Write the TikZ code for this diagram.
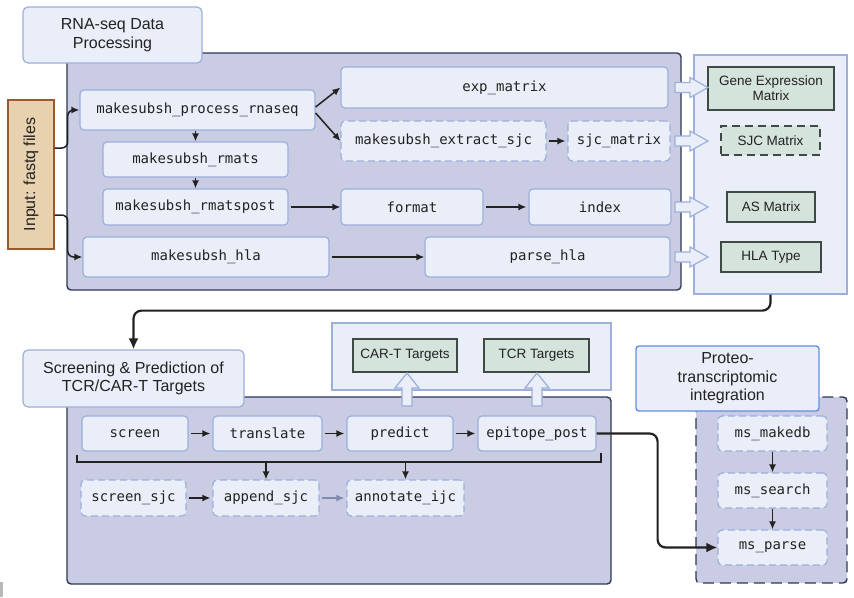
\documentclass[tikz,border=0pt]{standalone}
\usepackage{fontspec}
\setmainfont{Liberation Sans}
\newfontfamily\codefont{DejaVu Sans Mono}
\usetikzlibrary{arrows.meta}

\definecolor{nodefill}{HTML}{E9EEF8}
\definecolor{nodeline}{HTML}{9DAFDB}
\definecolor{panelfill}{HTML}{C9CCE2}
\definecolor{panelline}{HTML}{2E3853}
\definecolor{resfill}{HTML}{D5E3DD}
\definecolor{resline}{HTML}{3F4A45}
\definecolor{tanfill}{HTML}{E8D1AE}
\definecolor{tanline}{HTML}{9A5A2E}
\definecolor{brightline}{HTML}{5F90E2}
\definecolor{ink}{HTML}{222222}
\definecolor{softink}{HTML}{7F8BB0}

% hollow block arrows pointing right (at height #1) and up (at column #1)
\newcommand\hollowright[1]{%
  \filldraw[hollow] (675,#1-5) -- (690,#1-5) -- (690,#1-10) -- (708,#1)
    -- (690,#1+10) -- (690,#1+5) -- (675,#1+5) -- cycle;}
\newcommand\hollowup[1]{%
  \filldraw[hollow] (#1-5,406) -- (#1-5,388) -- (#1-12,388) -- (#1,373)
    -- (#1+12,388) -- (#1+5,388) -- (#1+5,406) -- cycle;}

\begin{document}
\begin{tikzpicture}[x=1pt,y=-1pt,
  code/.style={draw=nodeline, fill=nodefill, line width=1.2pt, rounded corners=4pt,
    font=\codefont\fontsize{14}{16}\selectfont, text=ink, inner sep=0pt},
  dcode/.style={code, dash pattern=on 7pt off 4pt},
  title/.style={draw=nodeline, fill=nodefill, line width=1.2pt, rounded corners=5pt,
    font=\fontsize{16}{18.5}\selectfont, text=ink, align=center, inner sep=0pt},
  result/.style={draw=resline, fill=resfill, line width=1.7pt,
    font=\fontsize{13.5}{15}\selectfont, text=ink, align=center, inner sep=0pt},
  panel/.style={draw=panelline, fill=panelfill, line width=1.4pt, rounded corners=4pt},
  outbox/.style={draw=nodeline, fill=nodefill, line width=1.2pt, inner sep=0pt},
  hollow/.style={draw=nodeline, fill=nodefill, line width=1.2pt, line join=miter},
  arr/.style={draw=ink, line width=1.5pt, -{Latex[length=8pt,width=7pt]}},
  bigarr/.style={draw=ink, line width=2.2pt, -{Latex[length=11pt,width=10pt]}, rounded corners=8pt}
]
\useasboundingbox (0,0) rectangle (854,597);
\fill[white] (0,0) rectangle (854,597);
\fill[gray!55] (0,582) rectangle (2.5,597);

%% ---------------- RNA-seq data processing ----------------
\fill[panel] (67,53) rectangle (681,290);
\node[title, minimum width=179pt, minimum height=56pt] (titleA) at (112.5,35)
  {RNA-seq Data\\Processing};

\node[outbox, minimum width=153pt, minimum height=239pt] (outA) at (770.5,174.5) {};

% rotated input label: its right-hand side is the node's south anchor
\node[draw=tanline, fill=tanfill, line width=1.4pt, rotate=90,
  minimum width=149pt, minimum height=46pt, inner sep=0pt,
  font=\fontsize{16}{18}\selectfont, text=ink] (input) at (31,174.5) {Input: fastq files};

\node[code, minimum width=235pt, minimum height=40pt] (proc) at (197.5,110) {makesubsh\_process\_rnaseq};
\node[code, minimum width=185pt, minimum height=35pt] (rmats) at (195.5,159.5) {makesubsh\_rmats};
\node[code, minimum width=185pt, minimum height=36pt] (rpost) at (195.5,207) {makesubsh\_rmatspost};
\node[code, minimum width=246pt, minimum height=40pt] (hla) at (206,257) {makesubsh\_hla};
\node[code, minimum width=327pt, minimum height=41pt] (expm) at (504.5,87.5) {exp\_matrix};
\node[dcode, minimum width=205pt, minimum height=40pt] (extract) at (443.5,141) {makesubsh\_extract\_sjc};
\node[dcode, minimum width=102pt, minimum height=40pt] (sjcm) at (619,141) {sjc\_matrix};
\node[code, minimum width=142pt, minimum height=36pt] (format) at (412,207) {format};
\node[code, minimum width=142pt, minimum height=36pt] (index) at (600,207) {index};
\node[code, minimum width=245pt, minimum height=40pt] (phla) at (547.5,257) {parse\_hla};

\node[result, minimum width=126pt, minimum height=43pt] (gem) at (771,88.5) {Gene Expression\\Matrix};
\node[result, dash pattern=on 8pt off 5pt, minimum width=99pt, minimum height=29pt] (sjcM) at (770.5,140.5) {SJC Matrix};
\node[result, minimum width=88pt, minimum height=30pt] (asM) at (771,207) {AS Matrix};
\node[result, minimum width=100pt, minimum height=30pt] (hlaT) at (771,257) {HLA Type};

\hollowright{87.5}
\hollowright{141}
\hollowright{207}
\hollowright{257}

\draw[arr, rounded corners=6pt] ([yshift=26.5pt]input.south) -- ++(13,0) |- (proc.west);
\draw[arr, rounded corners=6pt] ([yshift=-40.5pt]input.south) -- ++(13,0) |- (hla.west);
\draw[arr] ([yshift=3pt]proc.east) -- (expm.west);
\draw[arr] ([yshift=-3pt]proc.east) -- (extract.west);
\draw[arr] (proc.south -| rmats.north) -- (rmats.north);
\draw[arr] (rmats) -- (rpost);
\draw[arr] ([xshift=2pt]rpost.east) -- (format.west);
\draw[arr] ([xshift=2pt]format.east) -- ([xshift=-2pt]index.west);
\draw[arr] ([xshift=2pt]extract.east) -- ([xshift=-2pt]sjcm.west);
\draw[arr] ([xshift=2pt]hla.east) -- (phla.west);

%% ---------------- Screening & prediction ----------------
\fill[panel] (67,397) rectangle (611,584);
\node[outbox, minimum width=279pt, minimum height=67pt] (outB) at (471.5,356.5) {};
\node[result, minimum width=104pt, minimum height=33pt] (cart) at (405,355.5) {CAR-T Targets};
\node[result, minimum width=105pt, minimum height=33pt] (tcr) at (536.5,355.5) {TCR Targets};
\hollowup{407}
\hollowup{537}

\node[title, minimum width=221pt, minimum height=57pt] (titleB) at (133.5,378.5)
  {Screening \& Prediction of\\TCR/CAR-T Targets};

\node[code, minimum width=106pt, minimum height=35pt] (screen) at (135,433.5) {screen};
\node[code, minimum width=109pt, minimum height=35pt] (translate) at (267.5,433.5) {translate};
\node[code, minimum width=106pt, minimum height=35pt] (predict) at (400,433.5) {predict};
\node[code, minimum width=118pt, minimum height=35pt] (epi) at (537,433.5) {epitope\_post};
\node[dcode, minimum width=105pt, minimum height=36pt] (ssjc) at (133.5,498) {screen\_sjc};
\node[dcode, minimum width=106pt, minimum height=36pt] (asjc) at (266,498) {append\_sjc};
\node[dcode, minimum width=117pt, minimum height=36pt] (aijc) at (405.5,498) {annotate\_ijc};

\draw[arr] ([xshift=2pt]screen.east) -- ([xshift=-2pt]translate.west);
\draw[arr] ([xshift=2pt]translate.east) -- ([xshift=-2pt]predict.west);
\draw[arr] ([xshift=2pt]predict.east) -- ([xshift=-2pt]epi.west);
\draw[arr] ([xshift=2pt]ssjc.east) -- ([xshift=-2pt]asjc.west);
\draw[arr, draw=softink, -{Latex[length=8pt,width=7pt,fill=softink]}, color=softink]
  ([xshift=2pt]asjc.east) -- ([xshift=-2pt]aijc.west);

% bracket gathering the prediction steps
\coordinate (brL) at (77,462);
\coordinate (brR) at (601,462);
\draw[ink, line width=1.5pt] ([yshift=7pt]brL) -- (brL) -- (brR) -- ([yshift=9pt]brR);
\draw[arr] (asjc.north |- brL) -- (asjc.north);
\draw[arr] (aijc.north |- brL) -- (aijc.north);

%% ---------------- Proteo-transcriptomic integration ----------------
\fill[panelfill] (696,397) rectangle (847,583);
\draw[panelline, line width=1.4pt, rounded corners=4pt, dash pattern=on 11pt off 6pt]
  (696,397) rectangle (847,583);
\node[title, draw=brightline, line width=1.4pt, rounded corners=3pt,
  minimum width=183pt, minimum height=65pt] (titleC) at (727.5,378.5)
  {Proteo-\\transcriptomic\\integration};

\node[dcode, minimum width=109pt, minimum height=35pt] (makedb) at (772.5,433.5) {ms\_makedb};
\node[dcode, minimum width=109pt, minimum height=35pt] (search) at (772.5,490.5) {ms\_search};
\node[dcode, minimum width=109pt, minimum height=35pt] (parse) at (772.5,547.5) {ms\_parse};
\draw[arr] (makedb) -- (search);
\draw[arr] (search) -- (parse);

%% ---------------- links between stages ----------------
\draw[bigarr] (outA.south) -- ++(0,16) -| (titleB.north);
\draw[bigarr] (epi.east) -- ++(61,0) |- (parse.west);
\end{tikzpicture}
\end{document}
